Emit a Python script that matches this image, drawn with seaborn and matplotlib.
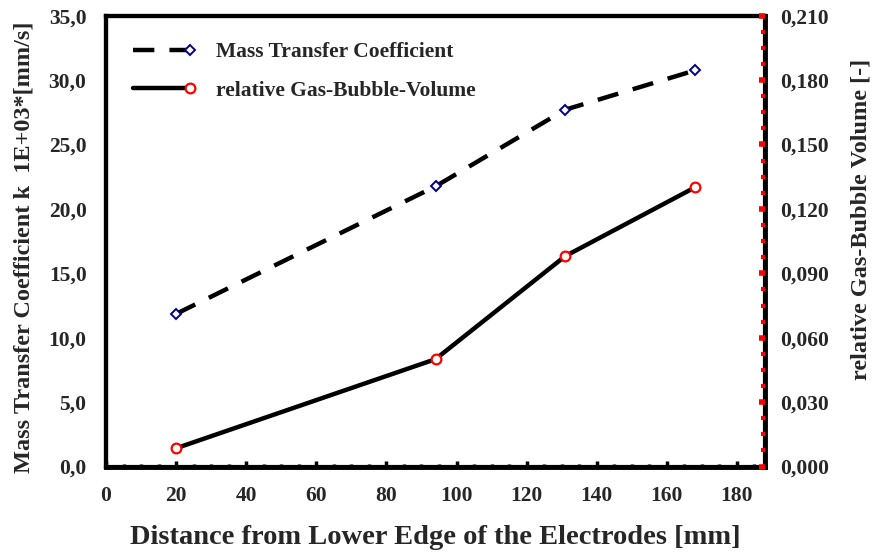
import matplotlib
matplotlib.use("Agg")
import matplotlib.pyplot as plt
import seaborn as sns
import pandas as pd
from matplotlib.ticker import FuncFormatter, MultipleLocator
from matplotlib.legend_handler import HandlerLine2D

# ---- data ----
distance_mm = [20, 94, 131, 168]
mass_transfer_k = [11.85, 21.75, 27.7, 30.75]
gas_bubble_volume = [0.0085, 0.050, 0.098, 0.130]

x_label = "Distance from Lower Edge of the Electrodes [mm]"
y_left_label = "Mass Transfer Coefficient k  1E+03*[mm/s]"
y_right_label = "relative Gas-Bubble Volume [-]"
series_names = ["Mass Transfer Coefficient", "relative Gas-Bubble-Volume"]

df = pd.DataFrame({"x": distance_mm, "k": mass_transfer_k, "v": gas_bubble_volume})

sns.set_theme(style="white")
plt.rcParams["font.family"] = ["Liberation Serif", "DejaVu Serif"]
plt.rcParams["font.weight"] = "bold"

fig = plt.figure(figsize=(8.76, 5.54), dpi=100)
ax = fig.add_axes([106 / 876, 1 - 466.5 / 554, 659 / 876, 450.8 / 554])
ax2 = ax.twinx()

sns.lineplot(data=df, x="x", y="k", ax=ax, color="black", linewidth=3.2,
             linestyle=(0, (4.8, 3.4)), marker="D", markersize=5,
             markerfacecolor="white", markeredgecolor="#000080",
             markeredgewidth=1.4, label=series_names[0], legend=False)
sns.lineplot(data=df, x="x", y="v", ax=ax2, color="black", linewidth=3.2,
             marker="o", markersize=7, markerfacecolor="white",
             markeredgecolor="red", markeredgewidth=1.6,
             label=series_names[1], legend=False)

ax.set_xlim(0, 188)
ax.set_ylim(0, 35)
ax2.set_ylim(0, 0.21)

ax.xaxis.set_major_locator(MultipleLocator(20))
ax.xaxis.set_minor_locator(MultipleLocator(5))
ax.yaxis.set_major_locator(MultipleLocator(5))
ax2.yaxis.set_major_locator(MultipleLocator(0.03))
ax2.yaxis.set_minor_locator(MultipleLocator(0.0075))

ax.yaxis.set_major_formatter(FuncFormatter(lambda v, p: f"{v:.1f}".replace(".", ",")))
ax2.yaxis.set_major_formatter(FuncFormatter(lambda v, p: f"{v:.3f}".replace(".", ",")))

tick_fs = 15.5
ax.tick_params(axis="x", which="major", direction="in", length=4, width=2.5,
               color="black", labelsize=tick_fs, pad=14, bottom=True)
ax.tick_params(axis="x", which="minor", direction="in", length=2.5, width=2.5,
               color="black", bottom=True)
ax.tick_params(axis="y", which="both", length=0, labelsize=tick_fs, pad=14)
ax2.tick_params(axis="y", which="major", direction="in", length=4, width=4,
                color="red", labelsize=tick_fs, pad=11, right=True)
ax2.tick_params(axis="y", which="minor", direction="in", length=3, width=3,
                color="red", right=True)
ax2.yaxis.set_zorder(3)

for a in (ax, ax2):
    for s in a.spines.values():
        s.set_color("black")
        s.set_linewidth(3)
ax2.spines["right"].set_linewidth(3.5)
ax.spines["bottom"].set_linewidth(3.5)

for lab in ax.get_xticklabels() + ax.get_yticklabels() + ax2.get_yticklabels():
    lab.set_fontweight("bold")

ax.set_xlabel(x_label, fontsize=20.5, fontweight="bold", labelpad=14)
ax.set_ylabel(y_left_label, fontsize=17.5, fontweight="bold")
ax2.set_ylabel(y_right_label, fontsize=17.5, fontweight="bold")
ax.yaxis.set_label_coords(-0.109, 0.487)
ax2.yaxis.set_label_coords(1.129, 0.547)


class EndMarkerHandler(HandlerLine2D):
    def create_artists(self, legend, orig_handle, xdescent, ydescent, width,
                       height, fontsize, trans):
        arts = super().create_artists(legend, orig_handle, xdescent, ydescent,
                                      width, height, fontsize, trans)
        for a in arts:
            if a.get_marker() not in (None, "None", "", " "):
                n = len(a.get_xdata())
                a.set_markevery([n - 1])
        return arts


h1 = ax.get_lines()[0]
h2 = ax2.get_lines()[0]
leg = ax.legend([h1, h2], series_names, loc="upper left",
                bbox_to_anchor=(0.028, 0.960), borderaxespad=0, frameon=False,
                prop={"family": "Liberation Serif", "weight": "bold", "size": 15.5},
                handlelength=2.65, handletextpad=1.2, labelspacing=0.86,
                handler_map={h1: EndMarkerHandler(numpoints=1),
                             h2: EndMarkerHandler(numpoints=1)})
leg.set_zorder(5)

fig.savefig("out.png", dpi=100)
